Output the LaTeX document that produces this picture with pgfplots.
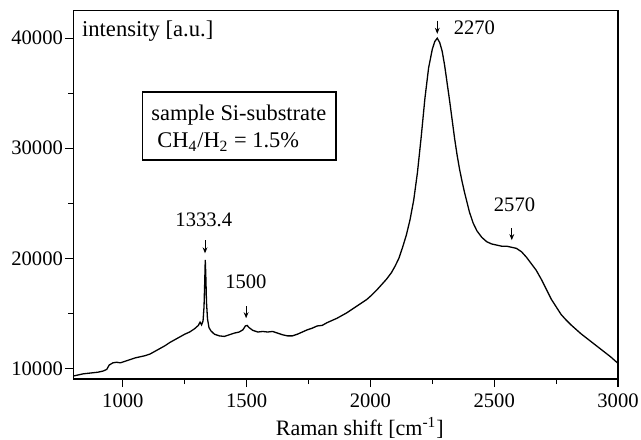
\documentclass[border=0pt]{standalone}
\usepackage{fontspec}
\setmainfont{Liberation Serif}
\usepackage{pgfplots}
\pgfplotsset{compat=1.18}
\usetikzlibrary{arrows.meta}

\pgfplotstableread{
x y
800 9300
820 9400
840 9500
860 9550
880 9600
900 9650
920 9750
935 9900
945 10300
960 10500
975 10550
990 10500
1010 10650
1030 10800
1050 10950
1070 11050
1090 11150
1110 11300
1130 11550
1150 11800
1170 12050
1190 12350
1210 12600
1230 12850
1250 13100
1270 13300
1290 13600
1305 13900
1312 14200
1318 13950
1324 14300
1328 15600
1331 18000
1333 19850
1335 18600
1338 16000
1342 14500
1348 13700
1356 13400
1370 13100
1390 12950
1410 12900
1430 13050
1450 13200
1470 13300
1485 13500
1495 13850
1502 13900
1510 13700
1525 13450
1545 13300
1565 13350
1585 13300
1605 13350
1625 13200
1645 13050
1665 12950
1685 12950
1705 13100
1725 13300
1745 13500
1765 13650
1785 13850
1805 13900
1825 14150
1845 14350
1865 14550
1885 14800
1905 15050
1925 15350
1945 15650
1965 15950
1985 16250
2005 16650
2025 17100
2045 17600
2065 18100
2085 18700
2100 19300
2115 20000
2130 21000
2145 22100
2160 23500
2175 25300
2190 27800
2205 31000
2220 34500
2235 37300
2250 39000
2260 39700
2270 40000
2280 39600
2290 38800
2300 37500
2310 35900
2320 34300
2330 32600
2340 30900
2350 29400
2360 28100
2370 27000
2380 26000
2390 25100
2400 24200
2415 23200
2430 22500
2450 21900
2470 21500
2490 21300
2510 21200
2530 21100
2550 21100
2570 21000
2590 20900
2610 20600
2630 20100
2650 19500
2670 18900
2690 18100
2710 17200
2730 16300
2750 15600
2770 14900
2790 14400
2810 13950
2830 13550
2850 13150
2870 12800
2890 12450
2910 12100
2930 11750
2950 11400
2970 11050
2990 10650
3000 10450
}\spectrum

\begin{document}
\begin{tikzpicture}
\path[use as bounding box] (-36.65pt,-30pt) rectangle (283.85pt,189.5pt);
\begin{axis}[
  scale only axis, width=272.35pt, height=184.15pt,
  xmin=800, xmax=3000, ymin=9030, ymax=42500,
  xtick={1000,1500,2000,2500,3000}, ytick={10000,20000,30000,40000},
  minor x tick num=1, minor y tick num=1,
  tick align=outside, xtick pos=bottom, ytick pos=left,
  major tick length=4pt, minor tick length=2.5pt,
  scaled ticks=false,
  /pgf/number format/1000 sep={},
  /pgf/number format/assume math mode=true,
  tick label style={font=\fontsize{10.3}{12}\selectfont},
  yticklabel style={inner xsep=1pt},
  axis line style={line width=0.6pt},
  every tick/.style={line width=0.6pt, black},
  xlabel={Raman shift [cm\textsuperscript{-1}]},
  xlabel style={at={(axis description cs:0.526,0)}, anchor=base, yshift=-28pt,
    font=\fontsize{11}{13}\selectfont, inner sep=0pt},
  clip=false,
]
\addplot[black, line width=0.65pt] table[x=x, y=y] {\spectrum};

\node[anchor=base west, inner sep=0pt, font=\fontsize{11.3}{13}\selectfont]
  at (axis cs:834,40140) {intensity [a.u.]};

\draw[line width=0.6pt] (axis cs:1080,35120) rectangle (axis cs:1861,28930);
\node[anchor=base west, inner sep=0pt, font=\fontsize{11.2}{13}\selectfont]
  at (axis cs:1114,32500) {sample Si-substrate};
\node[anchor=base west, inner sep=0pt, font=\fontsize{11.2}{13}\selectfont]
  at (axis cs:1138,30025) {CH\textsubscript{4}/H\textsubscript{2} = 1.5\%};

\begin{scope}[every node/.style={inner sep=0pt, font=\fontsize{10.3}{12}\selectfont}]
\node[anchor=base] at (axis cs:1327,22870) {1333.4};
\node[anchor=base] at (axis cs:1497,17270) {1500};
\node[anchor=base west] at (axis cs:2335,40300) {2270};
\node[anchor=base] at (axis cs:2582,24235) {2570};
\end{scope}

\begin{scope}[line width=0.5pt, -{Stealth[length=3pt, width=2.4pt]}]
\draw (axis cs:1332,21650) -- (axis cs:1332,20450);
\draw (axis cs:1498,15660) -- (axis cs:1498,14550);
\draw (axis cs:2270,41600) -- (axis cs:2270,40400);
\draw (axis cs:2571,22730) -- (axis cs:2571,21650);
\end{scope}
\end{axis}
\end{tikzpicture}
\end{document}
